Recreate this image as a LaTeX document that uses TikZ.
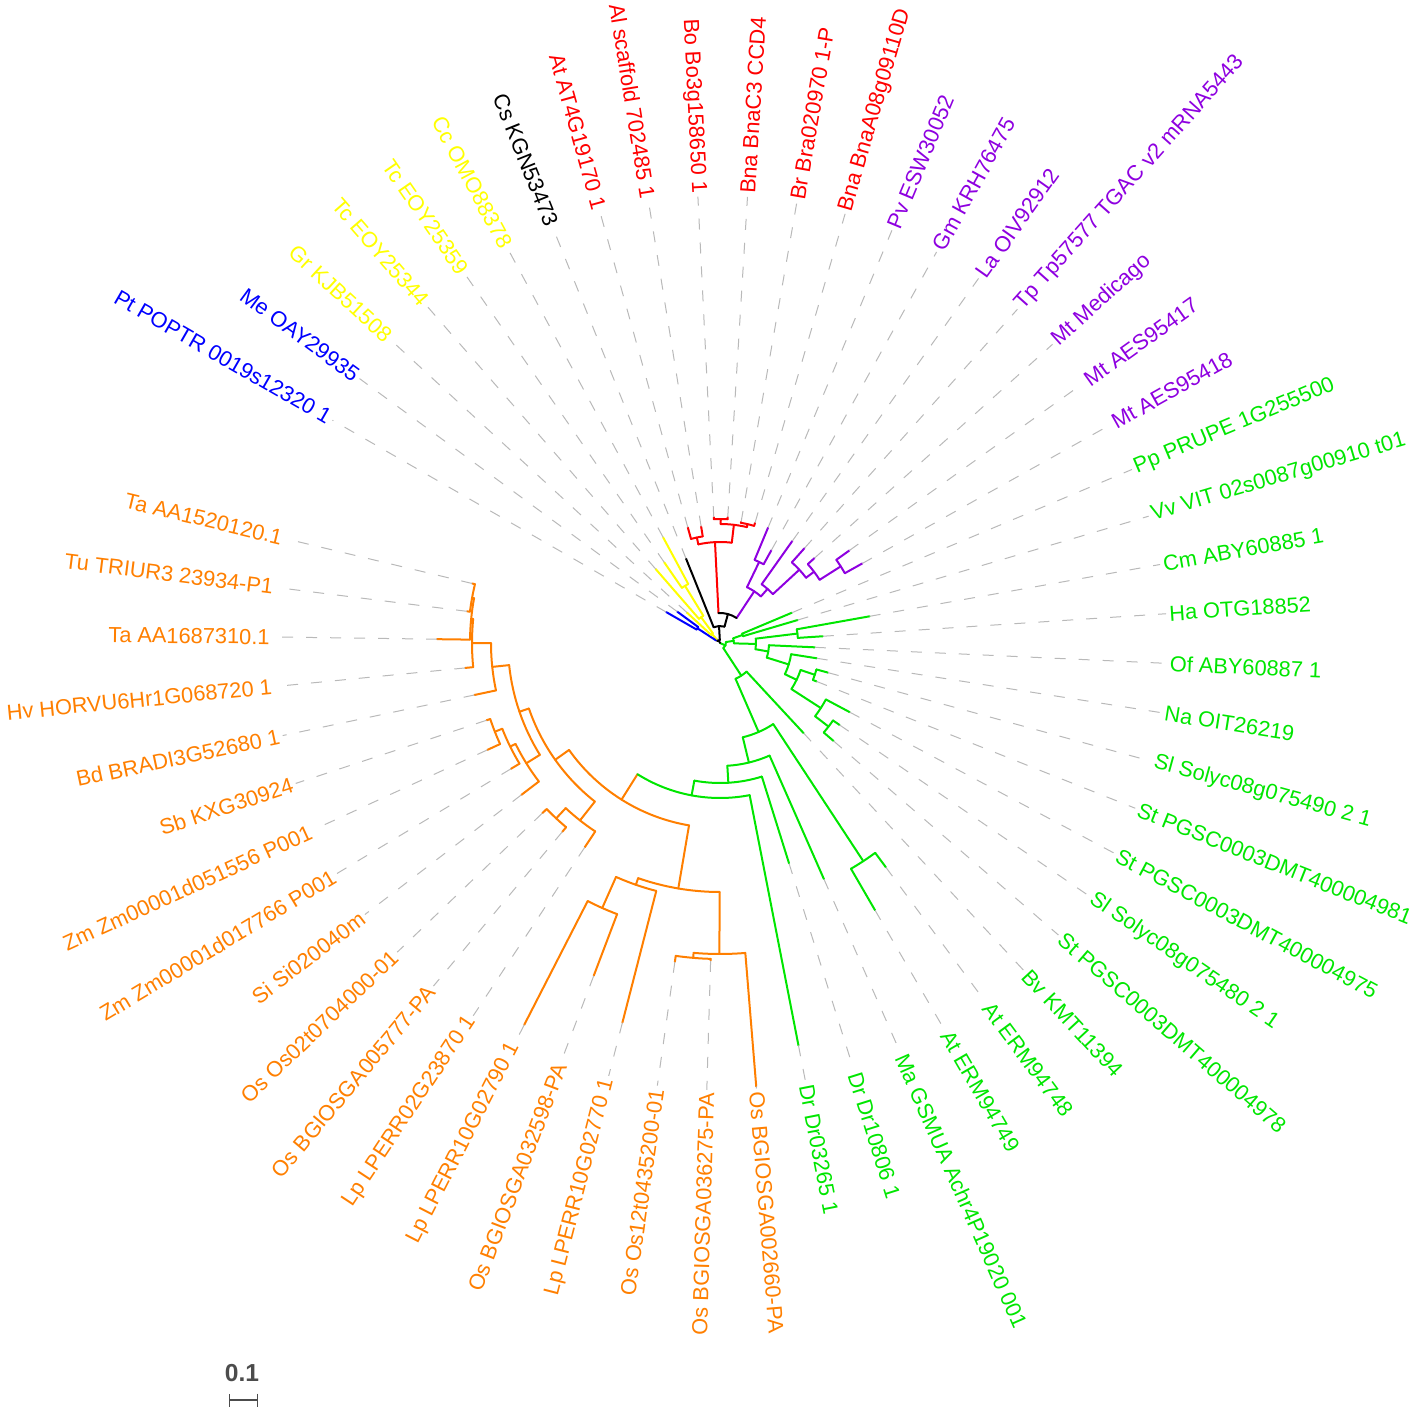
\documentclass[tikz,border=0pt]{standalone}
\usepackage{fontspec}
\setmainfont{Liberation Sans}
\usetikzlibrary{arrows.meta}

\begin{document}
\begin{tikzpicture}[
  x=0.5pt, y=0.5pt,
  branch/.style={draw=#1, line width=1pt, line cap=round},
  leaf/.style={text=#1, inner sep=1.5pt, font=\fontsize{10.9}{13}\selectfont},
  leader/.style={draw=gray!55, line width=0.5pt, dash pattern=on 5.5pt off 6.5pt},
  sbar/.style={draw=black!70, line width=0.6pt, {Bar[width=6.5pt]}-{Bar[width=6.5pt]}},
]
\definecolor{orng}{HTML}{FF7F00}
\definecolor{grn}{HTML}{00E600}
\definecolor{prp}{HTML}{8E00E0}
\definecolor{redc}{HTML}{FF0000}
\definecolor{yel}{HTML}{FFFF00}
\definecolor{blu}{HTML}{0000FF}

\useasboundingbox (-720,-765) rectangle (698,643);

% ---- internal nodes: angle / parent radius / radius / arc from / arc to / colour ----
\foreach \a/\rp/\r/\aa/\ab/\c in {
  169.68/250/252/166.5/172.86/orng, 174.45/248/250/169.68/179.23/orng,
  180.02/229/248/174.45/185.59/orng, 185.99/212/229/180.02/191.95/orng,
  201.5/234/242/198.32/204.68/orng, 206.27/228/234/201.5/211.04/orng,
  211.84/212/228/206.27/217.4/orng, 198.92/202/212/185.99/211.84/orng,
  226.95/226/240/223.77/230.13/orng, 231.72/202/226/226.95/236.49/orng,
  215.32/185/202/198.92/231.72/orng, 246.04/256/290/242.86/249.22/orng,
  250.81/249/256/246.04/255.58/orng, 265.13/311/316/261.95/268.31/orng,
  269.9/249/311/265.13/274.67/orng, 260.36/185/249/250.81/269.9/orng,
  237.84/155/185/215.32/260.36/orng,
  259.44/140/155/237.84/281.03/grn, 273.42/123/140/259.44/287.4/grn,
  283.59/97/123/273.42/293.76/grn, 303.3/97/261/300.12/306.49/grn,
  293.45/39/97/283.59/303.3/grn, 303.15/6/39/293.45/312.85/grn,
  322.4/120/137/319.21/325.58/grn, 327.17/85/120/322.4/331.94/grn,
  341.48/85/100/338.3/344.66/grn, 334.33/72/85/327.17/341.48/grn,
  342.68/49/72/334.33/351.03/grn, 350.04/36/49/342.68/357.39/grn,
  366.94/36/78/363.75/370.12/grn, 358.49/14/36/350.04/366.94/grn,
  379.66/14/24/376.48/382.84/grn, 369.08/6/14/358.49/379.66/grn,
  336.12/0/6/303.15/369.08/grn,
  392.39/118/143/389.2/395.57/prp, 397.16/108/118/392.39/401.93/prp,
  402.73/72/108/397.16/408.29/prp, 408.69/62/72/402.73/414.66/prp,
  424.2/62/90/421.02/427.38/prp, 416.45/30/62/408.69/424.2/prp,
  462.38/101/108/459.2/465.56/redc, 449.65/119/124/446.47/452.84/redc,
  436.93/119/122/433.75/440.11/redc, 443.29/101/119/436.93/449.65/redc,
  452.84/30/101/443.29/462.38/redc,
  434.64/17/30/416.45/452.84/black, 453.28/3/17/434.64/471.92/black,
  499.37/3/5/491.81/506.92/black, 476.33/0/3/453.28/499.37/black,
  481.47/32/67/478.29/484.65/yel, 486.24/12/32/481.47/491.01/yel,
  491.81/5/12/486.24/497.38/yel, 506.92/5/27/503.74/510.1/blu}
{
  \draw[branch=\c] (\a:\rp) -- (\a:\r);
  \draw[branch=\c] (\aa:\r) arc[start angle=\aa, end angle=\ab, radius=\r];
}

% ---- leaves: index / parent radius / tip radius / colour / label ----
\foreach \i/\rp/\rt/\c/\txt in {
  0/252/255/orng/Ta AA1520120.1, 1/252/255/orng/Tu TRIUR3 23934-P1,
  2/250/283/orng/Ta AA1687310.1, 3/248/256/orng/Hv HORVU6Hr1G068720 1,
  4/229/251/orng/Bd BRADI3G52680 1, 5/242/246/orng/Sb KXG30924,
  6/242/256/orng/Zm Zm00001d051556 P001, 7/234/244/orng/Zm Zm00001d017766 P001,
  8/228/250/orng/Si Si020040m, 9/240/246/orng/Os Os02t0704000-01,
  10/240/246/orng/Os BGIOSGA005777-PA, 11/226/245/orng/Lp LPERR02G23870 1,
  12/290/429/orng/Lp LPERR10G02790 1, 13/290/356/orng/Os BGIOSGA032598-PA,
  14/256/392/orng/Lp LPERR10G02770 1, 15/316/322/orng/Os Os12t0435200-01,
  16/316/318/orng/Os BGIOSGA036275-PA, 17/311/445/orng/Os BGIOSGA002660-PA,
  18/155/410/grn/Dr Dr03265 1, 19/140/231/grn/Dr Dr10806 1,
  20/123/258/grn/Ma GSMUA Achr4P19020 001, 21/261/309/grn/At ERM94749,
  22/261/279/grn/At ERM94748, 23/39/123/grn/Bv KMT11394,
  24/137/150/grn/St PGSC0003DMT400004978, 25/137/145/grn/Sl Solyc08g075480 2 1,
  26/120/147/grn/St PGSC0003DMT400004975, 27/100/104/grn/St PGSC0003DMT400004981,
  28/100/112/grn/Sl Solyc08g075490 2 1, 29/72/98/grn/Na OIT26219,
  30/49/95/grn/Of ABY60887 1, 31/78/103/grn/Ha OTG18852,
  32/78/152/grn/Cm ABY60885 1, 33/24/81/grn/Vv VIT 02s0087g00910 t01,
  34/24/78/grn/Pp PRUPE 1G255500, 35/143/163/prp/Mt AES95418,
  36/143/159/prp/Mt AES95417, 37/118/127/prp/Mt Medicago,
  38/108/127/prp/Tp Tp57577 TGAC v2 mRNA5443, 39/72/125/prp/La OIV92912,
  40/90/106/prp/Gm KRH76475, 41/90/125/prp/Pv ESW30052,
  42/122/125/redc/Bna BnaA08g09110D, 43/122/123/redc/Br Bra020970 1-P,
  44/124/126/redc/Bna BnaC3 CCD4, 45/124/126/redc/Bo Bo3g158650 1,
  46/108/118/redc/Al scaffold 702485 1, 47/108/120/redc/At AT4G19170 1,
  48/17/91/black/Cs KGN53473, 49/67/120/yel/Cc OMO88378,
  50/67/98/yel/Tc EOY25359, 51/32/98/yel/Tc EOY25344,
  52/12/45/yel/Gr KJB51508, 53/27/53/blu/Me OAY29935,
  54/27/62/blu/Pt POPTR 0019s12320 1}
{
  \pgfmathsetmacro\a{166.5+6.363*\i}
  \draw[branch=\c] (\a:\rp) -- (\a:\rt) coordinate (tip\i);
  \pgfmathtruncatemacro\lft{cos(\a)<0}
  \ifnum\lft=1
    \node[leaf=\c, rotate=\a+180, anchor=east] (lab\i) at (\a:447) {\txt};
    \draw[leader] (tip\i) -- (lab\i.east);
  \else
    \node[leaf=\c, rotate=\a, anchor=west] (lab\i) at (\a:447) {\txt};
    \draw[leader] (tip\i) -- (lab\i.west);
  \fi
}

% ---- scale bar ----
\coordinate (sbL) at (-491,-757);
\coordinate (sbR) at (-462,-757);
\draw[sbar] (sbL) -- (sbR);
\node[font=\fontsize{12.3}{14}\selectfont\bfseries, text=black!70] (sbtxt) at (-478,-730) {0.1};
\end{tikzpicture}
\end{document}
